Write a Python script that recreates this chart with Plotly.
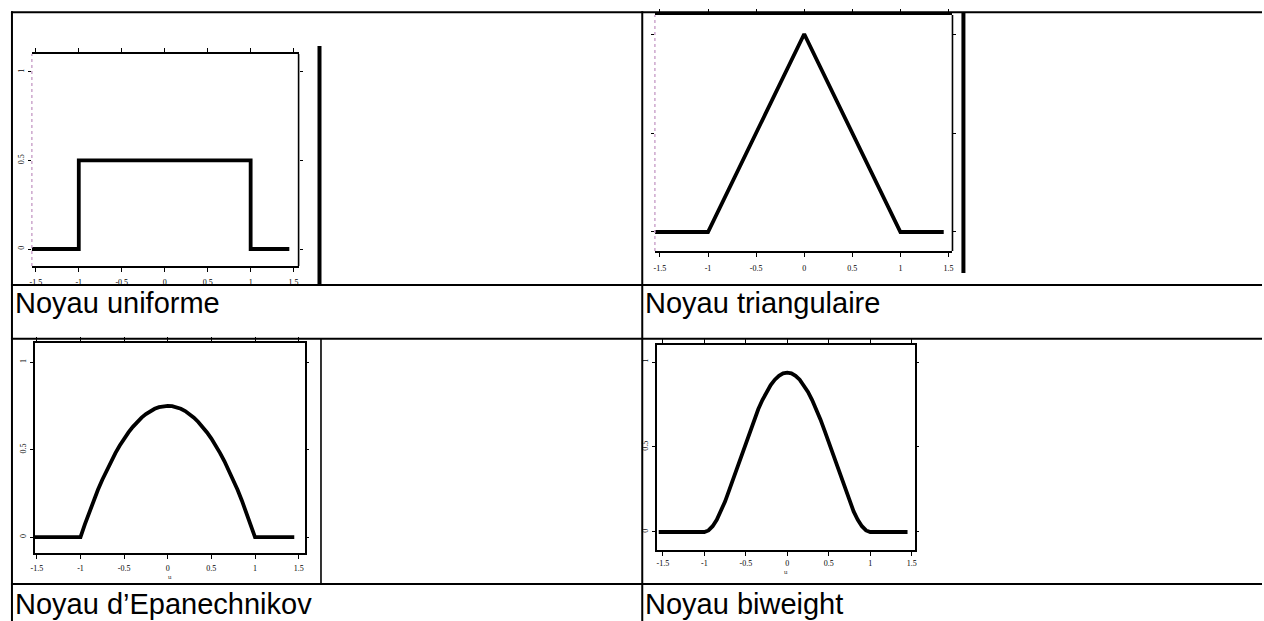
import plotly.graph_objects as go

W, H = 1264, 621

# ---- kernel curves (u, K(u)) ----
uniform_u = [-1.55, -1.0, -1.0, 1.0, 1.0, 1.45]
uniform_k = [0.0, 0.0, 0.5, 0.5, 0.0, 0.0]

triang_u = [-1.55, -1.0, 0.0, 1.0, 1.45]
triang_k = [0.0, 0.0, 1.0, 0.0, 0.0]

epan_u = [-1.55, -1.0, -0.95, -0.9, -0.85, -0.8, -0.75, -0.7, -0.65, -0.6, -0.55, -0.5,
          -0.45, -0.4, -0.35, -0.3, -0.25, -0.2, -0.15, -0.1, -0.05, 0.0,
          0.05, 0.1, 0.15, 0.2, 0.25, 0.3, 0.35, 0.4, 0.45, 0.5,
          0.55, 0.6, 0.65, 0.7, 0.75, 0.8, 0.85, 0.9, 0.95, 1.0, 1.45]
epan_k = [0.0, 0.0, 0.073, 0.1425, 0.208, 0.27, 0.328, 0.3825, 0.433, 0.48, 0.523, 0.5625,
          0.598, 0.63, 0.658, 0.6825, 0.703, 0.72, 0.733, 0.7425, 0.748, 0.75,
          0.748, 0.7425, 0.733, 0.72, 0.703, 0.6825, 0.658, 0.63, 0.598, 0.5625,
          0.523, 0.48, 0.433, 0.3825, 0.328, 0.27, 0.208, 0.1425, 0.073, 0.0, 0.0]

biw_u = [-1.55, -1.0, -0.95, -0.9, -0.85, -0.8, -0.75, -0.7, -0.65, -0.6, -0.55, -0.5,
         -0.45, -0.4, -0.35, -0.3, -0.25, -0.2, -0.15, -0.1, -0.05, 0.0,
         0.05, 0.1, 0.15, 0.2, 0.25, 0.3, 0.35, 0.4, 0.45, 0.5,
         0.55, 0.6, 0.65, 0.7, 0.75, 0.8, 0.85, 0.9, 0.95, 1.0, 1.45]
biw_k = [0.0, 0.0, 0.009, 0.034, 0.072, 0.121, 0.179, 0.246, 0.313, 0.384, 0.456, 0.527,
         0.596, 0.662, 0.722, 0.776, 0.824, 0.864, 0.896, 0.919, 0.933, 0.9375,
         0.933, 0.919, 0.896, 0.864, 0.824, 0.776, 0.722, 0.662, 0.596, 0.527,
         0.456, 0.384, 0.313, 0.246, 0.179, 0.121, 0.072, 0.034, 0.009, 0.0, 0.0]

x_ticks = [-1.5, -1.0, -0.5, 0.0, 0.5, 1.0, 1.5]
x_tick_text = ["-1.5", "-1", "-0.5", "0", "0.5", "1", "1.5"]
y_ticks = [0.0, 0.5, 1.0]
y_tick_text = ["0", "0.5", "1"]

captions = ["Noyau uniforme", "Noyau triangulaire", "Noyau d\u2019Epanechnikov", "Noyau biweight"]


def px(x):
    return x / W


def py(y):
    return 1 - y / H


# panel boxes in pixels: (left, right, top, bottom), axis ranges
panels = [
    dict(box=(28, 296, 54, 266), xr=[-1.546, 1.558], yr=[-0.096, 1.101],
         u=uniform_u, k=uniform_k, ylabels=True, xtitle=False, standoff=4, faint_left=True),
    dict(box=(654, 953, 15, 251), xr=[-1.552, 1.541], yr=[-0.096, 1.096],
         u=triang_u, k=triang_k, ylabels=False, xtitle=False, standoff=5, faint_left=True),
    dict(box=(31, 302, 343, 553), xr=[-1.523, 1.568], yr=[-0.091, 1.109],
         u=epan_u, k=epan_k, ylabels=True, xtitle=True, standoff=3, faint_left=False),
    dict(box=(656, 915, 345, 550), xr=[-1.572, 1.536], yr=[-0.106, 1.1],
         u=biw_u, k=biw_k, ylabels=True, xtitle=True, standoff=1, faint_left=False),
]

fig = go.Figure()
tick_font = dict(family="Liberation Serif", size=8, color="black")
shapes = []

for i, p in enumerate(panels, start=1):
    l, r, t, b = p["box"]
    xa = "x" if i == 1 else f"x{i}"
    ya = "y" if i == 1 else f"y{i}"
    fig.add_trace(go.Scatter(x=p["u"], y=p["k"], mode="lines",
                             line=dict(color="black", width=3.8),
                             xaxis=xa, yaxis=ya, hoverinfo="skip"))
    xkey = "xaxis" if i == 1 else f"xaxis{i}"
    ykey = "yaxis" if i == 1 else f"yaxis{i}"
    fig.update_layout({
        xkey: dict(domain=[px(l), px(r)], range=p["xr"], anchor=ya,
                   tickmode="array", tickvals=x_ticks, ticktext=x_tick_text,
                   ticks="outside", ticklen=4, tickwidth=1.3, tickcolor="black",
                   showline=True, linecolor="black", linewidth=1.6, mirror="ticks",
                   showgrid=False, zeroline=False, tickfont=tick_font,
                   ticklabelstandoff=p["standoff"],
                   title=dict(text="u" if p["xtitle"] else "",
                              font=dict(family="Liberation Serif", size=7, color="#333"),
                              standoff=0)),
        ykey: dict(domain=[py(b), py(t)], range=p["yr"], anchor=xa,
                   tickmode="array", tickvals=y_ticks, ticktext=y_tick_text,
                   ticks="outside", ticklen=3, tickwidth=1.3, tickcolor="black",
                   showline=not p["faint_left"], linecolor="black", linewidth=1.6,
                   mirror="ticks",
                   showgrid=False, zeroline=False, tickfont=tick_font,
                   showticklabels=p["ylabels"], tickangle=-90,
                   ticklabelstandoff=1),
    })
    if p["faint_left"]:
        # light stippled left frame, solid right frame
        shapes.append(dict(type="line", xref=f"{xa} domain", yref=f"{ya} domain",
                           x0=0, x1=0, y0=0, y1=1, layer="above",
                           line=dict(color="#c9a0c9", width=1.4, dash="dot")))
        shapes.append(dict(type="line", xref=f"{xa} domain", yref=f"{ya} domain",
                           x0=1, x1=1, y0=0, y1=1, layer="above",
                           line=dict(color="black", width=1.6)))


# table rules
def hline(y, x0, x1, w=2):
    shapes.append(dict(type="line", xref="paper", yref="paper",
                       x0=px(x0), x1=px(x1), y0=py(y), y1=py(y),
                       line=dict(color="black", width=w)))


def vline(x, y0, y1, w=2):
    shapes.append(dict(type="line", xref="paper", yref="paper",
                       x0=px(x), x1=px(x), y0=py(y0), y1=py(y1),
                       line=dict(color="black", width=w)))


hline(12.3, 7, W)
hline(285, 7, W)
hline(338.7, 7, W)
hline(584, 7, W)
vline(8, 11.3, H)
vline(641.3, 11.3, H)

# frame edges beside the images
vline(317, 46, 285, 4)
vline(964, 12, 273, 4)
vline(318.5, 338.7, 584, 1.6)

fig.update_layout(shapes=shapes)

# captions
cap_pos = [(9, 303), (642, 303), (9, 604), (642, 604)]
for text, (cx, cy) in zip(captions, cap_pos):
    fig.add_annotation(x=px(cx), y=py(cy), xref="paper", yref="paper",
                       text=text, showarrow=False, xanchor="left", yanchor="middle",
                       font=dict(family="Liberation Sans, Arial", size=29, color="black"))

fig.update_layout(width=W, height=H, margin=dict(l=0, r=0, t=0, b=0),
                  paper_bgcolor="white", plot_bgcolor="white", showlegend=False)

fig.write_html("out.html")
